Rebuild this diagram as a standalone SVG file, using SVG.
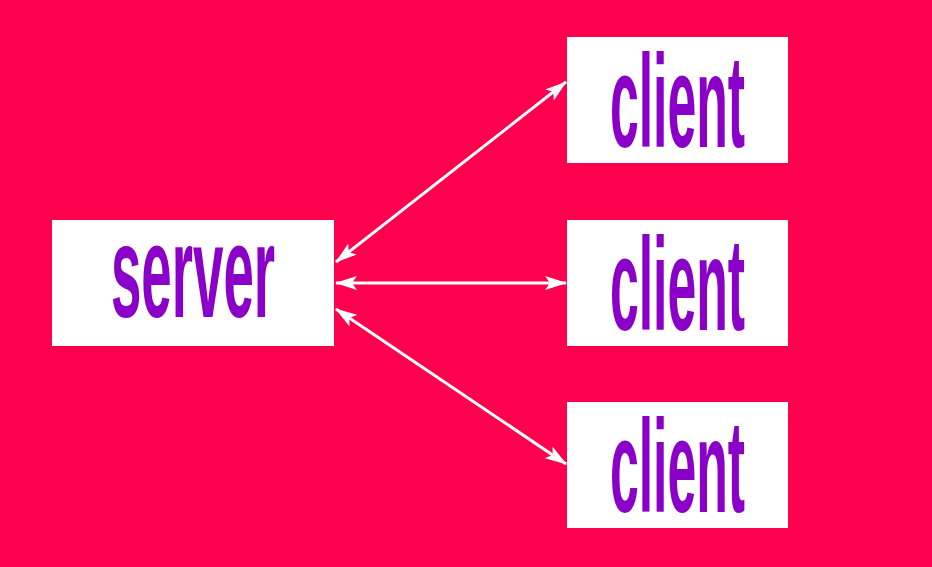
<svg xmlns="http://www.w3.org/2000/svg" width="932" height="567" viewBox="0 0 932 567">
<defs>
<style>
.box{fill:#FFFFFF;}
.lbl{font-family:"Liberation Sans",Arial,sans-serif;font-size:132px;font-weight:bold;fill:#8A00C8;text-anchor:middle;}
.conn{stroke:#FFFFFF;stroke-width:3;fill:none;marker-start:url(#ah);marker-end:url(#ah);}
</style>
<marker id="ah" markerUnits="userSpaceOnUse" markerWidth="22" markerHeight="14" refX="21" refY="7" orient="auto-start-reverse" viewBox="0 0 22 14">
<path d="M0,0 L22,7 L0,14 L5,7 Z" fill="#FFFFFF"/>
</marker>
</defs>
<rect width="932" height="567" fill="#FF004F"/>
<g id="connectors">
<line class="conn" x1="336" y1="262" x2="566" y2="82"/>
<line class="conn" x1="336" y1="283" x2="566" y2="283"/>
<line class="conn" x1="336" y1="309" x2="566" y2="464"/>
</g>
<g id="server">
<rect class="box" x="52" y="220" width="282" height="126"/>
<text class="lbl" transform="translate(193,317) scale(0.414,1)">server</text>
</g>
<g id="client1">
<rect class="box" x="567" y="37" width="221" height="126"/>
<text class="lbl" transform="translate(677.5,147) scale(0.392,1)">client</text>
</g>
<g id="client2">
<rect class="box" x="567" y="220" width="221" height="126"/>
<text class="lbl" transform="translate(677.5,330) scale(0.392,1)">client</text>
</g>
<g id="client3">
<rect class="box" x="567" y="402" width="221" height="126"/>
<text class="lbl" transform="translate(677.5,512) scale(0.392,1)">client</text>
</g>
</svg>
